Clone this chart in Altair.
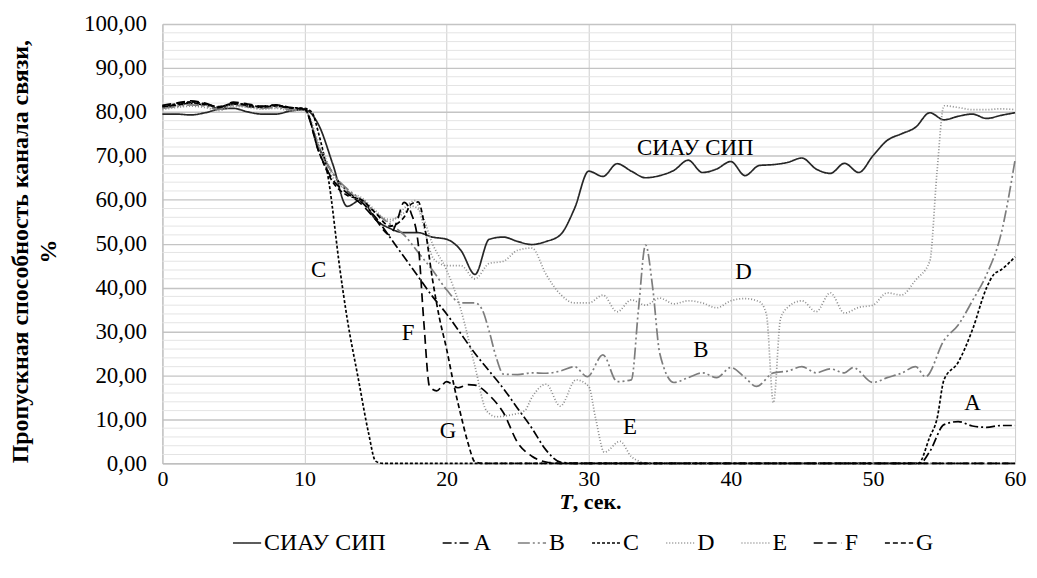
import altair as alt
import pandas as pd

series_names = ["СИАУ СИП", "A", "B", "C", "D", "E", "F", "G"]

t_siau = list(range(0, 61))
v_siau = [79.5, 79.5, 79.3, 79.8, 80.6, 80.8, 80.0, 79.5, 79.5, 80.2, 80.5,
          77.0, 68.0, 58.5, 60.0, 55.5, 53.5, 52.5, 52.5, 51.5, 51.0,
          48.5, 43.0, 51.0, 51.5, 50.5, 49.8, 50.5, 52.0, 58.0, 66.5,
          65.3, 68.2, 66.5, 65.0, 65.5, 66.7, 69.0, 66.2, 67.0, 68.7,
          65.5, 67.8, 68.0, 68.5, 69.5, 67.0, 66.0, 68.3, 66.2, 70.0,
          73.5, 75.0, 76.5, 79.8, 78.2, 79.0, 79.5, 78.5, 79.2, 79.8]

t_a = [0, 1, 2, 3, 4, 5, 6, 7, 8, 9, 10, 11, 12, 13, 14, 15, 16, 17, 18, 19, 20,
       21, 22, 23, 24, 25, 26, 27, 28, 29, 53.3, 54, 55, 56, 57, 58, 59, 60]
v_a = [81.0, 81.5, 82.0, 81.5, 80.8, 81.8, 81.2, 81.0, 81.3, 80.8, 80.5,
       72.0, 66.0, 62.0, 59.5, 56.0, 51.5, 47.0, 42.5, 38.0, 34.0,
       29.5, 25.0, 21.0, 17.0, 12.5, 8.0, 3.0, 0.3, 0.0, 0.0, 2.7, 8.8, 9.5, 8.5, 8.2, 8.6, 8.6]

t_b = [0, 1, 2, 3, 4, 5, 6, 7, 8, 9, 10, 11, 12, 13, 14, 15, 16, 17, 18, 19, 20,
       21, 22, 22.5, 23, 23.5, 24, 25, 26, 27, 28, 29, 29.9, 31, 32, 33, 33.5, 34, 34.5,
       35, 36, 37, 38, 39, 40, 41, 41.8, 43, 44, 45, 46, 47, 48, 48.6, 50, 51, 52, 53,
       53.7, 55, 56, 57, 58, 59, 60]
v_b = [80.8, 81.2, 81.6, 81.3, 80.6, 81.5, 81.4, 80.8, 81.0, 80.5, 80.3,
       72.0, 66.0, 62.5, 60.0, 57.0, 54.5, 52.0, 48.0, 44.0, 39.5,
       36.5, 36.5, 35.0, 30.0, 24.0, 20.3, 20.2, 20.6, 20.5, 21.0, 22.0, 19.7, 24.7, 18.6,
       19.0, 35.0, 49.7, 40.0, 25.0, 18.4, 19.5, 20.6, 19.5, 21.8, 19.5, 17.5, 20.6, 21.0,
       22.0, 20.6, 21.5, 20.6, 21.8, 18.4, 19.5, 20.5, 22.0, 19.7, 28.0, 31.5, 37.0, 43.0,
       52.0, 69.0]

t_c = [0, 1, 2, 3, 4, 5, 6, 7, 8, 9, 10, 10.5, 11, 11.7, 12.5, 13, 13.8, 14.5, 15, 15.5,
       53.2, 54, 54.5, 55, 56, 57, 58, 58.5, 59, 60]
v_c = [81.3, 81.8, 82.3, 81.8, 81.0, 82.0, 81.6, 81.2, 81.5, 81.0, 80.8, 80.0, 75.0,
       64.4, 44.0, 33.0, 19.0, 7.0, 0.5, 0.0,
       0.0, 6.0, 10.0, 19.0, 23.0, 30.4, 40.0, 43.0, 44.0, 47.0]

t_d = [0, 1, 2, 3, 4, 5, 6, 7, 8, 9, 10, 11, 12, 13, 14, 15, 16, 16.5, 17, 17.8, 18.3,
       19, 19.5, 20, 21, 22, 23, 24, 25, 26, 27, 28, 29, 30, 31, 32, 33, 34, 35, 36, 37,
       38, 39, 40, 41, 42, 42.5, 43, 43.5, 44, 45, 46, 47, 48, 49, 50, 51, 52, 53, 54,
       54.5, 55, 56, 57, 58, 59, 60]
v_d = [80.5, 81.0, 81.3, 81.0, 80.3, 81.3, 81.0, 80.6, 80.8, 80.3, 80.4,
       73.0, 66.0, 62.0, 60.5, 57.5, 55.0, 56.0, 58.0, 59.8, 55.0,
       47.0, 45.5, 45.0, 45.0, 42.0, 45.5, 46.0, 48.5, 49.0, 43.0, 38.5, 36.5, 36.5,
       38.3, 34.5, 37.2, 36.0, 37.6, 36.3, 37.0, 36.5, 35.4, 37.0, 37.5, 36.8, 34.0,
       13.8, 33.0, 35.5, 37.0, 34.5, 38.8, 34.2, 35.5, 36.0, 38.8, 38.3, 41.7, 46.0,
       66.0, 81.4, 81.0, 80.5, 80.5, 80.7, 80.5]

t_e = [0, 1, 2, 3, 4, 5, 6, 7, 8, 9, 10, 11, 12, 13, 14, 15, 16, 17, 17.6, 18.2, 19,
       20, 21, 22, 22.8, 23.5, 24.5, 25.5, 26, 27, 28, 29.1, 30, 30.5, 31.1, 32.2, 33,
       33.6, 34, 60]
v_e = [81.0, 81.3, 81.8, 81.6, 80.9, 81.6, 81.3, 80.9, 81.2, 80.6, 80.6,
       72.0, 65.0, 62.0, 60.0, 57.0, 55.5, 57.0, 58.5, 57.0, 50.0,
       44.0, 35.0, 22.0, 12.0, 10.6, 11.0, 12.0, 15.0, 18.0, 13.0, 19.0, 17.5, 10.0,
       2.5, 5.0, 1.5, 0.4, 0.0, 0.0]

t_f = [0, 1, 2, 3, 4, 5, 6, 7, 8, 9, 10, 11, 12, 13, 14, 15, 16, 16.5, 17, 17.5, 18,
       18.4, 18.8, 19.3, 20, 20.8, 21.5, 22, 23, 24, 25, 26, 27, 28, 60]
v_f = [81.5, 82.0, 82.5, 82.0, 81.0, 82.2, 81.8, 81.3, 81.6, 81.0, 80.6,
       71.0, 64.5, 61.5, 59.0, 55.5, 52.0, 55.0, 59.4, 57.0, 50.0,
       32.0, 17.5, 16.5, 18.6, 17.2, 17.9, 17.8, 15.5, 11.5, 4.7, 1.6, 0.3, 0.0, 0.0]

t_g = [0, 1, 2, 3, 4, 5, 6, 7, 8, 9, 10, 11, 12, 13, 14, 15, 16, 17, 17.5, 18, 18.5,
       19, 19.5, 20, 20.5, 21, 21.5, 22, 22.5, 60]
v_g = [81.2, 81.6, 82.1, 81.7, 81.2, 81.9, 81.5, 81.1, 81.4, 80.9, 80.7,
       71.0, 64.0, 61.0, 60.0, 57.0, 54.0, 56.0, 59.0, 59.5, 53.0,
       42.0, 33.0, 26.0, 18.0, 11.0, 4.7, 0.3, 0.0, 0.0]

label_text = ["СИАУ СИП", "C", "F", "G", "E", "D", "B", "A"]
label_t = [37.5, 11.0, 17.3, 20.1, 32.9, 40.9, 37.9, 57.0]
label_v = [71.7, 44.0, 29.7, 7.3, 8.2, 43.5, 25.9, 13.8]

y_major = list(range(0, 101, 10))
y_minor = [v for v in range(2, 100, 2) if v % 10 != 0]
x_ticks = list(range(0, 61, 10))

color_range = ["#262626", "#000000", "#7d7d7d", "#000000", "#8c8c8c", "#8c8c8c", "#000000", "#000000"]
dash_range = [[1, 0], [9, 3, 2, 3], [12, 3, 2, 3, 2, 3], [3, 2], [1, 2], [1, 2], [9, 5], [5, 3]]

rows = []
for name, ts, vs in [(series_names[0], t_siau, v_siau), ("A", t_a, v_a), ("B", t_b, v_b),
                     ("C", t_c, v_c), ("D", t_d, v_d), ("E", t_e, v_e),
                     ("F", t_f, v_f), ("G", t_g, v_g)]:
    for t, v in zip(ts, vs):
        rows.append({"series": name, "t": t, "v": v})
df = pd.DataFrame(rows)

FONT = "Liberation Serif, Times New Roman, serif"

legend_cfg = alt.Legend(
    title=None, orient="none", direction="horizontal", legendX=70, legendY=506,
    symbolType="stroke", symbolSize=800, symbolStrokeWidth=1.7,
    labelFont=FONT, labelFontSize=24, labelColor="black", columnPadding=22.5,
    labelOffset=2, symbolOffset=0, labelLimit=400,
    labelExpr="length(datum.label) > 2 ? datum.label + '\u00a0\u00a0\u2800' : datum.label",
)

x_axis = alt.Axis(values=x_ticks, grid=True, gridColor="#cfcfcf", gridWidth=1,
                  ticks=False, domainColor="#bdbdbd", labelFont=FONT, labelFontSize=22,
                  labelColor="black", labelPadding=5, title=None, labelFlush=False)

y_axis = alt.Axis(
    values=y_major, grid=True, gridColor="#c4c4c4", gridWidth=1.4,
    ticks=False, domainColor="#bdbdbd", labelOverlap=False,
    labelExpr="replace(format(datum.value, '.2f'), '.', ',')",
    labelFont=FONT, labelFontSize=23, labelColor="black", labelPadding=16,
    title=["Пропускная способность канала связи,", "%"],
    titleFont=FONT, titleFontSize=24, titleFontWeight="bold", titleColor="black",
    titleLineHeight=28, titleAngle=-90, titleAlign="center", titleBaseline="bottom",
    titleX=-130, titleY=228,
)

minor = alt.Chart(pd.DataFrame({"v": y_minor})).mark_rule(color="#e4e4e4", strokeWidth=1).encode(
    y=alt.Y("v:Q", scale=alt.Scale(domain=[0, 100], nice=False), axis=y_axis)
)

lines = alt.Chart(df).mark_line(interpolate="monotone", strokeWidth=1.7).encode(
    x=alt.X("t:Q", scale=alt.Scale(domain=[0, 60], nice=False, zero=False), axis=x_axis),
    y=alt.Y("v:Q", scale=alt.Scale(domain=[0, 100], nice=False), axis=y_axis),
    color=alt.Color("series:N", scale=alt.Scale(domain=series_names, range=color_range),
                    legend=legend_cfg),
    strokeDash=alt.StrokeDash("series:N", scale=alt.Scale(domain=series_names, range=dash_range),
                              legend=legend_cfg),
)

lab = pd.DataFrame({"text": label_text, "t": label_t, "v": label_v})
labels = alt.Chart(lab).mark_text(font=FONT, fontSize=23, color="black").encode(
    x="t:Q", y="v:Q", text="text:N"
)

xt1 = alt.Chart(pd.DataFrame({"s": ["T"]})).mark_text(
    font=FONT, fontSize=22, fontWeight="bold", fontStyle="italic", color="black",
    align="right", baseline="middle"
).encode(text="s:N", x=alt.value(412), y=alt.value(480))

xt2 = alt.Chart(pd.DataFrame({"s": [", сек."]})).mark_text(
    font=FONT, fontSize=22, fontWeight="bold", color="black",
    align="left", baseline="middle"
).encode(text="s:N", x=alt.value(412), y=alt.value(480))

chart = alt.layer(minor, lines, labels, xt1, xt2).properties(
    width=856, height=441,
    padding={"left": 155, "top": 15, "right": 14, "bottom": 100},
    autosize="none",
).configure_view(stroke=None).configure(background="white")

chart.save("out.html", embed_options={"renderer": "svg", "actions": False})
